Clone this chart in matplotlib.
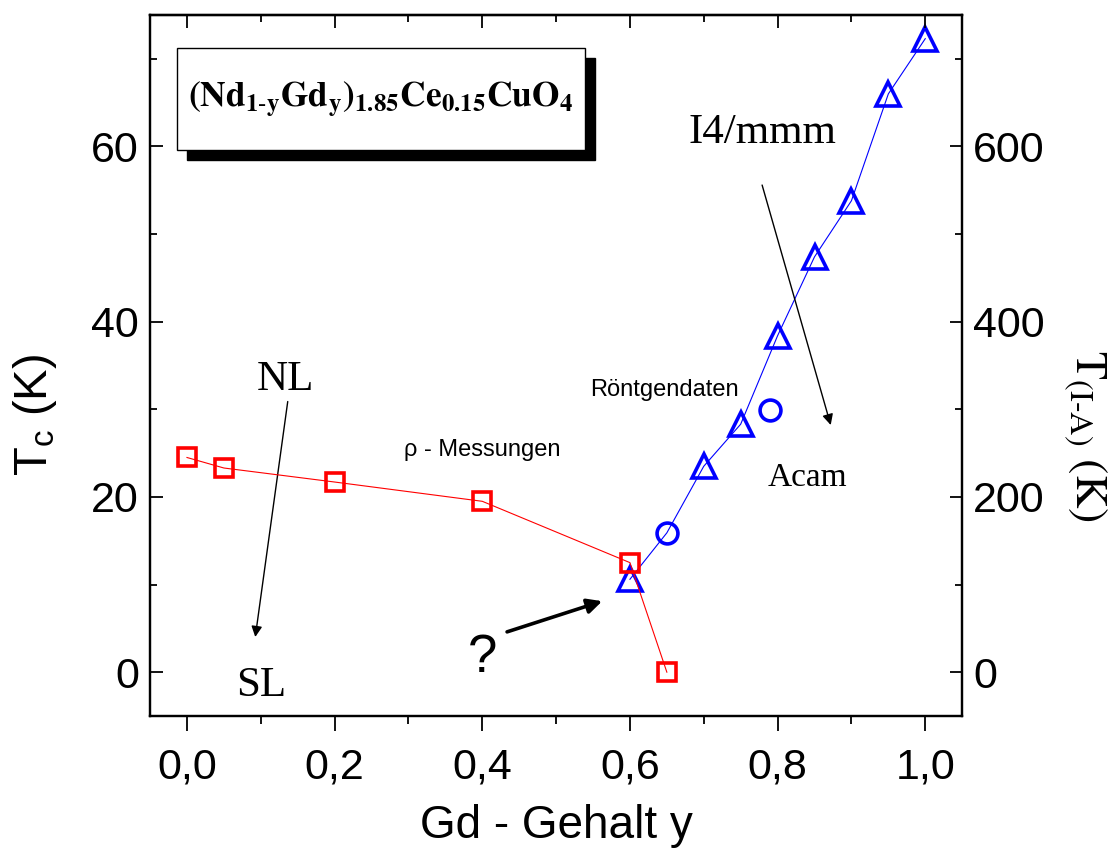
import matplotlib
matplotlib.use('Agg')
import matplotlib.pyplot as plt
from matplotlib.ticker import MultipleLocator, FuncFormatter
from matplotlib.patches import Rectangle

SANS = ['Liberation Sans', 'DejaVu Sans']
SERIF = ['Liberation Serif', 'DejaVu Serif']

plt.rcParams['font.family'] = SANS
plt.rcParams['mathtext.fontset'] = 'custom'
plt.rcParams['mathtext.rm'] = 'Liberation Sans'
plt.rcParams['mathtext.it'] = 'Liberation Sans'

# Resistivity data: Tc vs Gd content
gd_rho = [0.0, 0.05, 0.2, 0.4, 0.6, 0.65]
tc_rho = [24.5, 23.3, 21.7, 19.5, 12.5, 0.0]

# X-ray data: structural transition temperature T(I-A)
gd_tri = [0.6, 0.7, 0.75, 0.8, 0.85, 0.9, 0.95, 1.0]
t_tri = [106, 235, 283, 384, 474, 538, 660, 723]
gd_circ = [0.65, 0.79]
t_circ = [159, 299]

x_ticks = [0.0, 0.2, 0.4, 0.6, 0.8, 1.0]
tc_ticks = [0, 20, 40, 60]
tia_ticks = [0, 200, 400, 600]

fig = plt.figure(figsize=(11.14, 8.49), dpi=100)
ax = fig.add_axes([0.1347, 0.1567, 0.729, 0.8256])
ax2 = ax.twinx()

RED = '#ff0000'
BLUE = '#0000ff'

# connecting line for the x-ray points (triangles plus the first circle)
line_pts = sorted(list(zip(gd_tri, t_tri)) + [(gd_circ[0], t_circ[0])])
ax2.plot([p[0] for p in line_pts], [p[1] for p in line_pts], '-', color=BLUE, lw=0.8, zorder=2)
ax2.plot(gd_tri, t_tri, '^', ls='none', ms=17, mfc='none', mec=BLUE, mew=2.6, zorder=3)
ax2.plot(gd_circ, t_circ, 'o', ls='none', ms=15, mfc='none', mec=BLUE, mew=2.6, zorder=3)

ax.plot(gd_rho, tc_rho, '-', color=RED, lw=0.8, zorder=4)
ax.plot(gd_rho, tc_rho, 's', ls='none', ms=13, mfc='none', mec=RED, mew=2.6, zorder=5)
ax.set_zorder(ax2.get_zorder() + 1)
ax.patch.set_visible(False)

ax.set_xlim(-0.05, 1.05)
ax.set_ylim(-5, 75)
ax2.set_ylim(-50, 750)

ax.set_xticks(x_ticks)
ax.xaxis.set_minor_locator(MultipleLocator(0.1))
ax.xaxis.set_major_formatter(FuncFormatter(lambda v, p: f'{v:.1f}'.replace('.', ',')))
ax.set_yticks(tc_ticks)
ax.yaxis.set_minor_locator(MultipleLocator(10))
ax2.set_yticks(tia_ticks)
ax2.yaxis.set_minor_locator(MultipleLocator(100))

for a in (ax, ax2):
    for s in a.spines.values():
        s.set_linewidth(1.6)

ax.tick_params(axis='x', which='major', direction='out', length=11, width=1.3, labelsize=31, pad=12)
ax.tick_params(axis='x', which='minor', direction='out', length=6, width=1.3)
ax.tick_params(axis='y', which='major', direction='in', length=9, width=1.3, labelsize=31, pad=8)
ax.tick_params(axis='y', which='minor', direction='in', length=5, width=1.3)
ax2.tick_params(axis='y', which='major', direction='in', length=9, width=1.3, labelsize=31, pad=8)
ax2.tick_params(axis='y', which='minor', direction='in', length=5, width=1.3)

top = ax.secondary_xaxis('top')
top.set_xticks(x_ticks)
top.xaxis.set_minor_locator(MultipleLocator(0.1))
top.tick_params(axis='x', which='major', direction='in', length=9, width=1.3, labeltop=False)
top.tick_params(axis='x', which='minor', direction='in', length=5, width=1.3)
top.spines['top'].set_linewidth(1.6)

ax.set_xlabel('Gd - Gehalt y', fontsize=33)
ax.xaxis.set_label_coords(0.5, -0.125)
ax.set_ylabel(r'T$_\mathrm{c}$ (K)', fontsize=34)
ax.yaxis.set_label_coords(-0.112, 0.43)
ax2.set_ylabel(r'$\mathrm{T_{(I\text{-}A)}\ (K)}$', fontsize=33, rotation=-90,
               va='center', math_fontfamily='stix')
ax2.yaxis.set_label_coords(1.152, 0.40)

# compound box with drop shadow
bx0, by0, bw, bh = 0.033, 0.807, 0.503, 0.146
ax.add_patch(Rectangle((bx0 + 0.012, by0 - 0.014), bw, bh, transform=ax.transAxes,
                       facecolor='black', edgecolor='black', zorder=6, clip_on=False))
ax.add_patch(Rectangle((bx0, by0), bw, bh, transform=ax.transAxes,
                       facecolor='white', edgecolor='black', lw=1.0, zorder=7, clip_on=False))
ax.text(bx0 + bw / 2, by0 + bh / 2,
        r'$\mathbf{(Nd_{1\text{-}y}Gd_{y})_{1.85}Ce_{0.15}CuO_{4}}$',
        transform=ax.transAxes, ha='center', va='center', fontsize=25.5,
        math_fontfamily='stix', zorder=8)

# phase labels and arrows
ax.text(0.133, 33.4, 'NL', family=SERIF, fontsize=31, ha='center', va='center')
ax.text(0.10, -1.5, 'SL', family=SERIF, fontsize=31, ha='center', va='center')
ax.annotate('', xy=(0.092, 3.7), xytext=(0.137, 31.2),
            arrowprops=dict(arrowstyle='-|>', color='black', lw=1.0, mutation_scale=16))

ax.text(0.78, 61.6, 'I4/mmm', family=SERIF, fontsize=31, ha='center', va='center')
ax.text(0.84, 22.2, 'Acam', family=SERIF, fontsize=24, ha='center', va='center')
ax.annotate('', xy=(0.873, 27.9), xytext=(0.778, 55.9),
            arrowprops=dict(arrowstyle='-|>', color='black', lw=1.0, mutation_scale=16))

ax.text(0.647, 32.2, 'Röntgendaten', fontsize=17, ha='center', va='center')
ax.text(0.40, 25.4, 'ρ - Messungen', fontsize=17, ha='center', va='center')

ax.text(0.40, 1.6, '?', fontsize=38, ha='center', va='center')
ax.annotate('', xy=(0.566, 8.2), xytext=(0.43, 4.5),
            arrowprops=dict(arrowstyle='-|>', color='black', lw=2.6, mutation_scale=22))

fig.savefig('out.png', dpi=100)
